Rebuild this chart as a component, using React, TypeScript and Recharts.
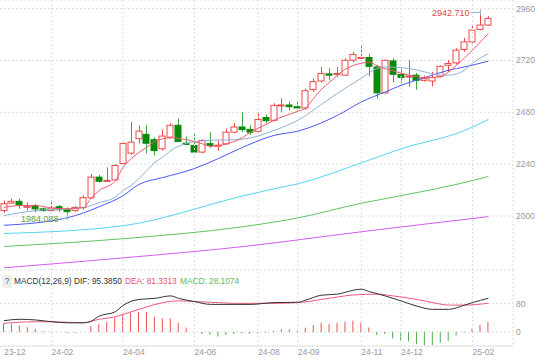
import React from "react";
import {
  ComposedChart,
  Bar,
  Line,
  Scatter,
  XAxis,
  YAxis,
  CartesianGrid,
  ReferenceLine,
  Cell,
} from "recharts";

const tickIdx = [0, 6, 15, 24, 32, 37, 45, 50, 59];
const tickLabels = ["23-12", "24-02", "24-04", "24-06", "24-08", "24-09", "24-11", "24-12", "25-02"];

// weekly candles
const opens = [
  2025, 2060, 2068, 2042, 2048, 2033, 2025, 2043, 2029, 2025, 2039, 2084, 2180, 2162, 2167, 2243,
  2291, 2358, 2378, 2353, 2311, 2365, 2420, 2337, 2327, 2296, 2335, 2325, 2334, 2388, 2412, 2401,
  2392, 2456, 2443, 2510, 2514, 2506, 2500, 2585, 2625, 2658, 2656, 2652, 2721, 2730, 2734, 2690,
  2570, 2718, 2656, 2645, 2652, 2628, 2625, 2647, 2698, 2709, 2771, 2806, 2864, 2884,
];
const highs = [
  2071, 2080, 2080, 2063, 2056, 2040, 2071, 2051, 2040, 2046, 2095, 2195, 2190, 2225, 2240, 2340,
  2435, 2420, 2420, 2364, 2400, 2429, 2452, 2368, 2388, 2355, 2388, 2350, 2405, 2430, 2481, 2420,
  2480, 2470, 2522, 2545, 2531, 2528, 2590, 2636, 2690, 2684, 2690, 2730, 2760, 2791, 2752, 2698,
  2724, 2730, 2684, 2721, 2662, 2650, 2667, 2697, 2721, 2777, 2824, 2888, 2942.71, 2925,
];
const lows = [
  2015, 2057, 2034, 2025, 2017, 2020, 2024, 2020, 1984.088, 2020, 2030, 2080, 2155, 2157, 2163, 2240,
  2285, 2336, 2290, 2280, 2303, 2359, 2342, 2327, 2290, 2290, 2316, 2303, 2330, 2382, 2388, 2375,
  2387, 2430, 2438, 2481, 2489, 2489, 2492, 2575, 2618, 2628, 2644, 2648, 2713, 2729, 2647, 2543,
  2568, 2620, 2615, 2598, 2585, 2622, 2600, 2642, 2667, 2702, 2760, 2800, 2860, 2880,
];
const closes = [
  2057, 2068, 2051, 2045, 2033, 2025, 2037, 2029, 2020, 2040, 2085, 2180, 2161, 2165, 2234, 2336,
  2342, 2393, 2337, 2303, 2370, 2420, 2345, 2331, 2296, 2350, 2327, 2328, 2388, 2412, 2400, 2388,
  2447, 2441, 2512, 2514, 2506, 2500, 2580, 2622, 2660, 2652, 2660, 2721, 2748, 2734, 2693, 2570,
  2721, 2656, 2641, 2648, 2628, 2636, 2641, 2693, 2706, 2768, 2806, 2861, 2884, 2915,
];

// moving averages: [week index, value]
const ma5 = [
  [0, 2040], [2, 2048], [4, 2048], [6, 2037], [8, 2033], [10, 2039], [11, 2084], [12, 2118],
  [14, 2161], [15, 2226], [16, 2265], [18, 2319], [19, 2345], [21, 2362], [23, 2353], [25, 2334],
  [26, 2322], [28, 2334], [30, 2362], [31, 2387], [33, 2424], [34, 2443], [37, 2485], [38, 2500],
  [39, 2545], [40, 2587], [41, 2619], [43, 2680], [45, 2707], [46, 2713], [47, 2695], [49, 2672],
  [51, 2652], [53, 2641], [55, 2644], [56, 2667], [57, 2698], [59, 2768], [61, 2845],
];
const ma10 = [
  [0, 2002], [4, 2025], [8, 2033], [10, 2039], [12, 2062], [14, 2087], [15, 2118], [16, 2141],
  [18, 2211], [19, 2248], [20, 2272], [21, 2303], [23, 2336], [25, 2348], [27, 2352], [29, 2353],
  [31, 2361], [34, 2396], [37, 2443], [40, 2517], [42, 2568], [45, 2638], [47, 2683], [48, 2690],
  [51, 2683], [53, 2667], [55, 2652], [56, 2652], [58, 2675], [59, 2707], [61, 2752],
];
const ma20 = [
  [0, 1957], [8, 1992], [12, 2043], [15, 2094], [17, 2146], [20, 2178], [24, 2220], [27, 2266],
  [30, 2317], [34, 2373], [37, 2393], [42, 2466], [45, 2528], [48, 2574], [50, 2605], [53, 2641],
  [56, 2675], [58, 2690], [61, 2717],
];
const ma60 = [
  [0, 1919], [15, 1955], [30, 2092], [34, 2126], [37, 2149], [45, 2246], [50, 2311], [58, 2396],
  [61, 2447],
];
const ma120 = [
  [0, 1859], [15, 1895], [30, 1950], [37, 1991], [45, 2059], [50, 2094], [59, 2164], [61, 2183],
];
const ma250 = [[0, 1760], [15, 1806], [30, 1858], [45, 1927], [61, 1997]];

// MACD(12,26,9)
const macdHist = [
  24.5, 22.6, 17.9, 13.2, 8.5, 2.8, 0.9, 0, -3, -3, 0, 17, 22.6, 29, 40.5, 49.9,
  54.6, 57.4, 57.4, 43, 38.5, 38.5, 26, 13, 0, -5.6, -8.5, -13, -8.5, -5.6, -3.8, -5.6,
  -3.8, -1.9, 2.8, 7.5, 7.5, 3.8, 12, 20, 26, 22.6, 26, 29, 32, 27, 13, -8.5,
  -5.6, -18, -24.5, -27, -34, -37.7, -37.7, -30, -24.5, -10, -2, 10, 20, 28.1074,
];
const dif = [
  [0, 32], [2, 36], [4, 34], [6, 29], [8, 26], [10, 26], [11, 31], [12, 45], [14, 57], [15, 75],
  [17, 92], [19, 95], [21, 102], [22, 95], [24, 86], [26, 78], [29, 78], [31, 78], [34, 83],
  [37, 84], [38, 90], [40, 104], [42, 107], [44, 118], [45, 121], [46, 114], [48, 102], [50, 88],
  [52, 73], [54, 64], [56, 64], [58, 76], [59, 83], [61, 95.385],
];
const dea = [
  [0, 24.5], [4, 29], [6, 29], [10, 26], [12, 36], [14, 43], [16, 57], [18, 71], [20, 83],
  [22, 88], [24, 86], [27, 83], [29, 81], [34, 81], [37, 83], [40, 92], [44, 104.5], [47, 107],
  [49, 102], [52, 92], [54, 83], [56, 76], [58, 76], [61, 81.3313],
];

const UP = "#f04848";
const DOWN = "#0a8a0a";

const candles = opens.map((o, i) => ({
  i,
  o,
  c: closes[i],
  h: highs[i],
  l: lows[i],
  range: [lows[i], highs[i]],
}));
const histData = macdHist.map((m, i) => ({ i, m }));
const toPts = (arr: number[][]) => arr.map(([i, v]) => ({ i, v }));

const maxIdx = highs.indexOf(Math.max(...highs));
const minIdx = lows.indexOf(Math.min(...lows));
const maxPoint = [{ i: maxIdx, v: highs[maxIdx] }];
const minPoint = [{ i: minIdx, v: lows[minIdx] }];

const xDomain = [-0.5, 64.1];
const FONT = "'Liberation Sans', Arial, sans-serif";
const FS = 8.5;

const Candle = (props: any) => {
  const { x, y, width, height, payload } = props;
  const { o, c, h, l } = payload;
  const k = height / (h - l);
  const yO = y + (h - o) * k;
  const yC = y + (h - c) * k;
  const top = Math.min(yO, yC);
  const bh = Math.max(Math.abs(yO - yC), 1);
  const up = c >= o;
  const cx = Math.round(x + width / 2) + 0.5;
  return (
    <g>
      <line x1={cx} y1={y} x2={cx} y2={y + height} stroke={up ? UP : "#3aa83a"} strokeWidth={1} />
      <rect
        x={cx - width / 2}
        y={top}
        width={width - 1}
        height={bh}
        fill={up ? "#fff" : DOWN}
        stroke={up ? UP : DOWN}
        strokeWidth={1}
      />
    </g>
  );
};

const MaxMark = (props: any) => {
  const { cx, cy, payload } = props;
  return (
    <g>
      <line x1={cx - 10} y1={cy} x2={cx} y2={cy} stroke="#8fb3cf" />
      <line x1={cx} y1={cy - 3} x2={cx} y2={cy + 3} stroke="#8fb3cf" />
      <text x={cx - 11} y={cy} dy="0.35em" textAnchor="end" fontSize={FS + 0.5} fill="#e04848">
        {payload.v.toFixed(3)}
      </text>
    </g>
  );
};

const MinMark = (props: any) => {
  const { cx, cy, payload } = props;
  return (
    <g>
      <line x1={cx - 8} y1={cy - 1} x2={cx} y2={cy - 1} stroke="#8fb3cf" />
      <line x1={cx} y1={cy - 6} x2={cx} y2={cy - 1} stroke="#8fb3cf" />
      <text x={cx - 9} y={cy - 1} dy="0.35em" textAnchor="end" fontSize={FS + 0.5} fill="#6a9a3a">
        {payload.v.toFixed(3)}
      </text>
    </g>
  );
};

const DateTick = (props: any) => {
  const { x, y, payload } = props;
  const label = tickLabels[tickIdx.indexOf(payload.value)];
  return (
    <text x={x} y={y} dy="0.71em" textAnchor="start" fontSize={FS} fill="#999">
      {label}
    </text>
  );
};

const grid = "#dedede";

const maLine = (pts: number[][], color: string) => (
  <Line
    data={toPts(pts)}
    dataKey="v"
    type="monotone"
    stroke={color}
    strokeWidth={1}
    dot={false}
    activeDot={false}
    isAnimationActive={false}
  />
);

const App = () => {
  return (
    <div
      style={{
        position: "absolute",
        left: 0,
        top: 0,
        width: 550,
        height: 361,
        background: "#fff",
        fontFamily: FONT,
      }}
    >
      <ComposedChart width={550} height={270} data={candles} margin={{ top: 0, right: 0, left: 0, bottom: 0 }}>
        <CartesianGrid vertical={false} stroke={grid} strokeDasharray="2 2" />
        {tickIdx.slice(1).map((t) => (
          <ReferenceLine key={t} x={t} stroke={grid} strokeDasharray="2 2" />
        ))}
        <XAxis dataKey="i" type="number" domain={xDomain} allowDataOverflow hide />
        <YAxis
          orientation="right"
          width={37}
          type="number"
          domain={[1750, 3000]}
          ticks={[1760, 2000, 2240, 2480, 2720, 2960]}
          allowDataOverflow
          tickLine={false}
          tickSize={0}
          tickMargin={3}
          axisLine={{ stroke: grid, strokeDasharray: "2 2" }}
          tick={{ fontSize: FS, fill: "#999", textAnchor: "start" }}
        />
        {maLine(ma250, "#d35cf0")}
        {maLine(ma120, "#62c462")}
        {maLine(ma60, "#55d4ee")}
        {maLine(ma20, "#4a5cf0")}
        {maLine(ma10, "#8fb3d6")}
        <Bar dataKey="range" barSize={7} shape={<Candle />} isAnimationActive={false} />
        {maLine(ma5, "#ee5a70")}
        <Scatter data={maxPoint} dataKey="v" shape={<MaxMark />} isAnimationActive={false} />
        <Scatter data={minPoint} dataKey="v" shape={<MinMark />} isAnimationActive={false} />
      </ComposedChart>

      <div style={{ position: "absolute", left: 0, top: 270 }}>
        <ComposedChart width={550} height={91} data={histData} margin={{ top: 0, right: 0, left: 0, bottom: 0 }}>
          <CartesianGrid vertical={false} stroke={grid} strokeDasharray="2 2" />
          {tickIdx.slice(1).map((t) => (
            <ReferenceLine key={t} x={t} stroke={grid} strokeDasharray="2 2" />
          ))}
          <XAxis
            dataKey="i"
            type="number"
            domain={xDomain}
            allowDataOverflow
            ticks={tickIdx}
            interval={0}
            height={15}
            tickLine={false}
            tickSize={0}
            tickMargin={3}
            axisLine={{ stroke: "#e4e4e4" }}
            tick={<DateTick />}
          />
          <YAxis
            orientation="right"
            width={37}
            type="number"
            domain={[-39.5, 175.1]}
            ticks={[0, 80]}
            allowDataOverflow
            tickLine={false}
            tickSize={0}
            tickMargin={3}
            axisLine={{ stroke: grid, strokeDasharray: "2 2" }}
            tick={{ fontSize: FS, fill: "#999", textAnchor: "start" }}
          />
          <Bar dataKey="m" barSize={1} isAnimationActive={false}>
            {histData.map((d) => (
              <Cell key={d.i} fill={d.m >= 0 ? "#f05050" : "#4cae4c"} />
            ))}
          </Bar>
          {maLine(dea, "#ee5a78")}
          {maLine(dif, "#333")}
        </ComposedChart>
        <div style={{ position: "absolute", left: 0, top: 5, fontSize: 8.3, lineHeight: "13px", whiteSpace: "nowrap", color: "#333" }}>
          <span
            style={{
              position: "absolute",
              left: 2,
              top: 0,
              width: 10,
              height: 13,
              background: "#eee",
              borderRadius: 2,
              textAlign: "center",
              color: "#555",
            }}
          >
            ?
          </span>
          <span style={{ position: "absolute", left: 14, top: 0 }}>MACD(12,26,9)</span>
          <span style={{ position: "absolute", left: 74, top: 0 }}>DIF: 95.3850</span>
          <span style={{ position: "absolute", left: 125, top: 0, color: "#e8506a" }}>DEA: 81.3313</span>
          <span style={{ position: "absolute", left: 180, top: 0, color: "#5cb85c" }}>MACD: 28.1074</span>
        </div>
      </div>
    </div>
  );
};

export default App;
